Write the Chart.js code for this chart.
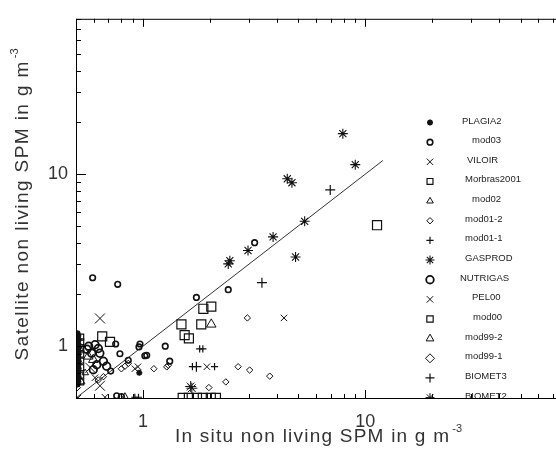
<!DOCTYPE html>
<html>
<head>
<meta charset="utf-8">
<script src="https://cdn.jsdelivr.net/npm/chart.js@4.4.1/dist/chart.umd.min.js"></script>
<style>
  html, body { margin: 0; padding: 0; background: #fff; overflow: hidden; }
  #wrap { position: relative; width: 600px; height: 457px; }
</style>
</head>
<body>
<div id="wrap"><canvas id="chart"></canvas></div>
<script>
// values: [in situ, satellite] non living SPM, g m-3
const plagia2 = [[0.508, 0.60], [0.512, 0.62], [0.508, 0.64], [0.514, 0.66], [0.508, 0.68], [0.512, 0.70], [0.508, 0.72],
  [0.514, 0.74], [0.508, 0.76], [0.512, 0.78], [0.508, 0.80], [0.514, 0.82], [0.508, 0.84], [0.512, 0.86], [0.508, 0.88],
  [0.514, 0.90], [0.508, 0.92], [0.512, 0.94], [0.508, 0.96], [0.514, 0.98], [0.508, 1.0], [0.512, 1.03], [0.508, 1.06],
  [0.514, 1.09], [0.508, 1.12], [0.512, 1.15], [0.508, 1.19], [0.963, 0.70]];
const mod03 = [[0.594, 2.50], [0.77, 2.29], [1.74, 1.92], [2.42, 2.13], [3.18, 4.0], [1.26, 1.0], [1.32, 0.818],
  [0.97, 1.03], [0.96, 0.99], [1.02, 0.88], [0.754, 1.03], [0.788, 0.904], [0.859, 0.828], [0.716, 0.717],
  [0.762, 0.515], [0.80, 0.51], [1.04, 0.885]];
const viloir = [[4.31, 1.46], [1.94, 0.76], [0.92, 0.74], [0.95, 0.76], [0.675, 0.505], [0.609, 0.656], [0.51, 0.5]];
const morbras2001 = [[0.525, 0.62], [0.525, 0.68], [0.525, 0.75], [0.525, 0.82], [0.525, 0.9], [0.525, 0.98],
  [0.525, 1.06], [0.525, 1.13]];
const mod02 = [[0.83, 0.51], [0.55, 0.7], [0.53, 0.62]];
const mod01_2 = [[2.95, 1.46], [2.68, 0.76], [3.02, 0.727], [3.72, 0.67], [2.36, 0.62], [1.98, 0.575], [1.12, 0.74],
  [1.28, 0.758], [1.30, 0.775], [0.80, 0.739], [0.83, 0.765], [0.86, 0.795], [0.664, 0.665], [0.63, 0.636]];
const mod01_1 = [[1.80, 0.965], [1.86, 0.965], [1.67, 0.76], [2.10, 0.76], [0.92, 0.505], [0.955, 0.505]];
const gasprod = [[7.93, 17.2], [9.02, 11.36], [4.46, 9.4], [4.68, 8.92], [5.34, 5.32], [3.85, 4.32], [2.97, 3.6],
  [4.86, 3.3], [2.42, 3.01], [2.46, 3.14]];
const nutrigas = [[0.57, 1.0], [0.609, 1.02], [0.63, 0.97], [0.64, 0.91], [0.588, 0.91], [0.62, 0.78], [0.664, 0.818],
  [0.687, 0.765], [0.598, 0.73], [0.56, 0.96]];
const pel00 = [[0.641, 1.45], [0.641, 0.589], [0.58, 0.75]];
const mod00 = [[1.87, 1.65], [2.03, 1.70], [1.49, 1.34], [1.83, 1.34], [1.54, 1.16], [1.61, 1.11], [11.3, 5.05],
  [0.656, 1.14], [0.711, 1.06], [1.51, 0.5], [1.61, 0.5], [1.75, 0.5], [1.86, 0.5], [2.02, 0.5], [2.13, 0.5]];
const mod99_2 = [[2.03, 1.34], [0.568, 0.873], [0.598, 0.835], [0.54, 0.95]];
const mod99_1 = [[0.5, 0.575], [0.51, 0.8]];
const biomet3 = [[6.96, 8.1], [3.43, 2.34], [1.74, 0.76]];
const biomet2 = [[1.64, 0.583], [1.66, 0.57]];
const oneToOne = [[0.5, 0.5], [12, 12]];

const seriesNames = ['PLAGIA2', 'mod03', 'VILOIR', 'Morbras2001', 'mod02', 'mod01-2', 'mod01-1', 'GASPROD',
  'NUTRIGAS', 'PEL00', 'mod00', 'mod99-2', 'mod99-1', 'BIOMET3', 'BIOMET2'];
const seriesData = [plagia2, mod03, viloir, morbras2001, mod02, mod01_2, mod01_1, gasprod,
  nutrigas, pel00, mod00, mod99_2, mod99_1, biomet3, biomet2];
const xRange = [0.5, 80];
const yRange = [0.5, 80];
const xTickLabels = [1, 10];
const yTickLabels = [1, 10];
const xTitle = 'In situ non living SPM in g m';
const yTitle = 'Satellite non living SPM in g m';

// symbol for each series: [pointStyle, radius, lineWidth, filled]
const symbols = [
  ['star', 3, 1.8, true], ['circle', 2.8, 1.6, false], ['crossRot', 4.5, 1, false], ['rect', 4.2, 1.2, false],
  ['triangle', 3.8, 1, false], ['rectRot', 3.2, 1, false], ['cross', 3.6, 1.2, false], ['star', 5, 1.1, false],
  ['circle', 3.8, 1.8, false], ['crossRot', 7, 1, false], ['rect', 6.4, 1.2, false], ['triangle', 5.5, 1, false],
  ['rectRot', 4.5, 1, false], ['cross', 5, 1.2, false], ['star', 5.5, 1, false]
];
const ink = '#111';

const toPoints = (arr) => arr.map(([x, y]) => ({ x: x, y: y }));

const datasets = seriesData.map((arr, i) => {
  const [style, r, lw, filled] = symbols[i];
  return {
    label: seriesNames[i],
    data: toPoints(arr),
    pointStyle: style,
    pointRadius: r,
    pointBorderWidth: lw,
    pointBorderColor: ink,
    pointBackgroundColor: filled ? ink : 'rgba(0,0,0,0)',
    showLine: false,
    clip: 0
  };
});
datasets.push({
  label: '1:1',
  data: toPoints(oneToOne),
  showLine: true,
  borderColor: '#333',
  borderWidth: 1,
  pointRadius: 0,
  clip: 0
});

function decadeValues(min, max) {
  const out = [];
  [0.1, 1, 10].forEach((dec) => {
    for (let k = 1; k <= 9; k++) {
      const v = +(k * dec).toPrecision(3);
      if (v >= min && v <= max) out.push({ v: v, major: k === 1 });
    }
  });
  return out;
}

// IDL style box: ticks pointing inward on all four sides
const boxTicks = {
  id: 'boxTicks',
  afterDatasetsDraw(chart) {
    const { ctx, chartArea: a, scales: { x, y } } = chart;
    ctx.save();
    ctx.strokeStyle = '#000';
    ctx.lineWidth = 1;
    ctx.strokeRect(a.left + 0.5, a.top + 0.5, a.right - a.left - 1, a.bottom - a.top);
    ctx.beginPath();
    decadeValues(xRange[0], xRange[1]).forEach((t) => {
      const px = Math.round(x.getPixelForValue(t.v)) + 0.5;
      const len = t.major ? 8 : 4;
      ctx.moveTo(px, a.bottom); ctx.lineTo(px, a.bottom - len);
      ctx.moveTo(px, a.top); ctx.lineTo(px, a.top + len);
    });
    decadeValues(yRange[0], yRange[1]).forEach((t) => {
      const py = Math.round(y.getPixelForValue(t.v)) + 0.5;
      const len = t.major ? 10 : 5;
      ctx.moveTo(a.left, py); ctx.lineTo(a.left + len, py);
      ctx.moveTo(a.right, py); ctx.lineTo(a.right - len, py);
    });
    ctx.stroke();
    ctx.restore();
  }
};

// legend drawn inside the plot, as in the original
const labelX = [462, 472, 467, 465, 472, 465, 465, 465, 460, 472, 473, 465, 465, 465, 465];
const innerLegend = {
  id: 'innerLegend',
  afterDatasetsDraw(chart) {
    const { ctx, chartArea: a } = chart;
    ctx.save();
    ctx.beginPath();
    ctx.rect(a.left, a.top, a.right - a.left, a.bottom - a.top);
    ctx.clip();
    seriesNames.forEach((name, i) => {
      const [style, r, lw, filled] = symbols[i];
      const yy = 122.5 + i * 19.65;
      ctx.strokeStyle = ink;
      ctx.fillStyle = filled ? ink : 'rgba(0,0,0,0)';
      ctx.lineWidth = lw;
      Chart.helpers.drawPoint(ctx, { pointStyle: style, radius: Math.min(r, 4.5), borderWidth: lw, rotation: 0 }, 430, yy);
      ctx.fillStyle = '#222';
      ctx.font = '9.5px "Liberation Sans Narrow", "Liberation Sans", sans-serif';
      ctx.textBaseline = 'alphabetic';
      ctx.textAlign = 'left';
      ctx.fillText(name, labelX[i], yy + 1);
    });
    ctx.restore();
  }
};

const titleFont = '19px "Liberation Sans", sans-serif';
const supFont = '11px "Liberation Sans", sans-serif';

function drawTitle(ctx, text, sup, width) {
  ctx.font = titleFont;
  const mainW = ctx.measureText(text).width;
  ctx.font = supFont;
  const supW = ctx.measureText(sup).width;
  const spacing = Math.max(0, (width - mainW - supW - 2) / text.length);
  ctx.font = titleFont;
  ctx.letterSpacing = spacing + 'px';
  const w = ctx.measureText(text).width;
  const x0 = -(w + 2 + supW) / 2;
  ctx.textAlign = 'left';
  ctx.textBaseline = 'alphabetic';
  ctx.fillText(text, x0, 0);
  ctx.letterSpacing = '0px';
  ctx.font = supFont;
  ctx.fillText(sup, x0 + w + 2, -10);
}

const axisTitles = {
  id: 'axisTitles',
  afterDraw(chart) {
    const { ctx, chartArea: a } = chart;
    ctx.save();
    ctx.fillStyle = '#333';
    ctx.translate((a.left + a.right) / 2 - 2.5, 442);
    drawTitle(ctx, xTitle, '-3', 287);
    ctx.restore();
    ctx.save();
    ctx.fillStyle = '#333';
    ctx.translate(28, (a.top + a.bottom) / 2 - 4);
    ctx.rotate(-Math.PI / 2);
    drawTitle(ctx, yTitle, '-3', 312);
    ctx.restore();
  }
};

const tickFont = { family: '"Liberation Sans", sans-serif', size: 18 };

new Chart(document.getElementById('chart'), {
  type: 'scatter',
  data: { datasets: datasets },
  options: {
    responsive: true,
    maintainAspectRatio: false,
    animation: false,
    events: [],
    layout: { padding: { top: 12, right: 34, left: 0, bottom: 0 } },
    plugins: { legend: { display: false }, tooltip: { enabled: false } },
    scales: {
      x: {
        type: 'logarithmic',
        min: xRange[0],
        max: xRange[1],
        afterBuildTicks: (s) => { s.ticks = xTickLabels.map((v) => ({ value: v })); },
        afterFit: (s) => { s.height = 59; },
        grid: { display: false, drawTicks: false },
        border: { display: false },
        ticks: { color: '#333', font: tickFont, padding: 13, maxRotation: 0, autoSkip: false,
          callback: (v) => String(v) }
      },
      y: {
        type: 'logarithmic',
        min: yRange[0],
        max: yRange[1],
        afterBuildTicks: (s) => { s.ticks = yTickLabels.map((v) => ({ value: v })); },
        afterFit: (s) => { s.width = 76; },
        grid: { display: false, drawTicks: false },
        border: { display: false },
        ticks: { color: '#333', font: tickFont, padding: 8, autoSkip: false,
          callback: (v) => String(v) }
      }
    }
  },
  plugins: [boxTicks, innerLegend, axisTitles]
});
</script>
</body>
</html>
